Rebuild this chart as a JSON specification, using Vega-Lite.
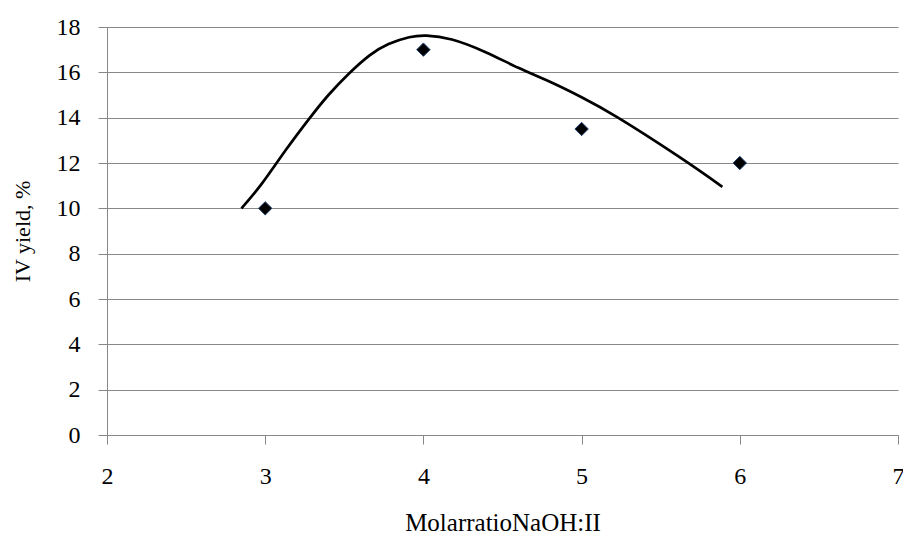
{
  "$schema": "https://vega.github.io/schema/vega-lite/v6.json",
  "width": 791,
  "height": 408,
  "autosize": {"type": "none"},
  "padding": {"left": 107, "top": 27, "right": 5, "bottom": 101},
  "background": "#ffffff",
  "config": {
    "view": {"stroke": null},
    "font": "Liberation Serif",
    "axis": {
      "labelFont": "Liberation Serif",
      "titleFont": "Liberation Serif",
      "labelColor": "#000000",
      "titleColor": "#000000",
      "titleFontWeight": "normal",
      "domainColor": "#888888",
      "tickColor": "#888888",
      "gridColor": "#888888",
      "gridOpacity": 1,
      "domainWidth": 1,
      "tickWidth": 1,
      "gridWidth": 1,
      "tickSize": 9
    }
  },
  "datasets": {
    "observed": [
      {"ratio": 3, "yield": 10},
      {"ratio": 4, "yield": 17},
      {"ratio": 5, "yield": 13.5},
      {"ratio": 6, "yield": 12}
    ],
    "trend": [
      {"ratio": 2.85, "yield": 10.0},
      {"ratio": 2.98, "yield": 11.1},
      {"ratio": 3.13, "yield": 12.57},
      {"ratio": 3.28, "yield": 13.97},
      {"ratio": 3.40, "yield": 15.0},
      {"ratio": 3.53, "yield": 15.95},
      {"ratio": 3.66, "yield": 16.75},
      {"ratio": 3.78, "yield": 17.25},
      {"ratio": 3.91, "yield": 17.55},
      {"ratio": 4.02, "yield": 17.62},
      {"ratio": 4.18, "yield": 17.45},
      {"ratio": 4.39, "yield": 16.9},
      {"ratio": 4.60, "yield": 16.2},
      {"ratio": 4.81, "yield": 15.55},
      {"ratio": 5.0, "yield": 14.9},
      {"ratio": 5.23, "yield": 14.0},
      {"ratio": 5.61, "yield": 12.3},
      {"ratio": 5.89, "yield": 10.95}
    ]
  },
  "layer": [
    {
      "data": {"name": "trend"},
      "mark": {"type": "line", "color": "#000000", "strokeWidth": 2.7, "interpolate": "natural"},
      "encoding": {
        "x": {
          "field": "ratio", "type": "quantitative",
          "scale": {"domain": [2, 7], "nice": false, "zero": false},
          "axis": {
            "title": "MolarratioNaOH:II",
            "values": [2, 3, 4, 5, 6, 7],
            "format": "d",
            "grid": false,
            "labelFontSize": 24,
            "labelPadding": 20,
            "titleFontSize": 25,
            "titlePadding": 22,
            "labelFlush": false
          }
        },
        "y": {
          "field": "yield", "type": "quantitative",
          "scale": {"domain": [0, 18], "nice": false},
          "axis": {
            "title": "IV yield, %",
            "values": [0, 2, 4, 6, 8, 10, 12, 14, 16, 18],
            "format": "d",
            "grid": true,
            "labelFontSize": 24,
            "labelPadding": 18,
            "titleFontSize": 22,
            "titlePadding": 22,
            "labelFlush": false
          }
        }
      }
    },
    {
      "data": {"name": "observed"},
      "mark": {"type": "point", "shape": "diamond", "filled": true, "color": "#000000", "stroke": "#1f3f6f", "strokeWidth": 1, "size": 180, "opacity": 1},
      "encoding": {
        "x": {"field": "ratio", "type": "quantitative"},
        "y": {"field": "yield", "type": "quantitative"}
      }
    }
  ]
}
